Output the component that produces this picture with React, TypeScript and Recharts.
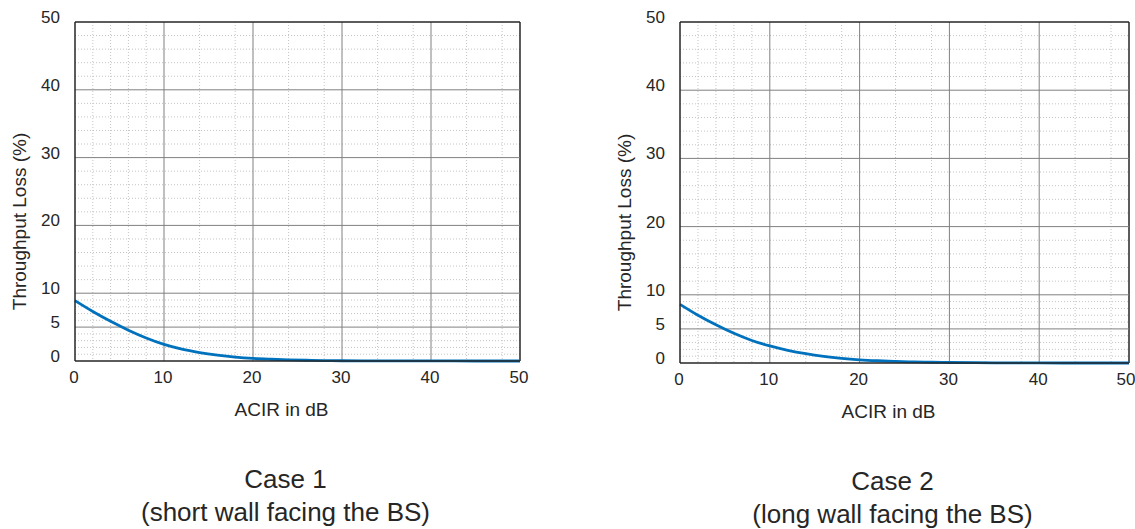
import React from 'react';
import { LineChart, Line, XAxis, YAxis, CartesianGrid, ReferenceLine } from 'recharts';

// ACIR sample points (dB)
const acir = [0, 2, 4, 6, 8, 10, 12, 14, 16, 18, 20, 22, 24, 26, 28, 30, 35, 40, 45, 50];
// throughput loss (%)
const lossCase1 = [8.9, 7.3, 5.85, 4.55, 3.4, 2.45, 1.75, 1.25, 0.87, 0.58, 0.38, 0.26, 0.17, 0.11, 0.07, 0.04, 0.02, 0.01, 0, 0];
const lossCase2 = [8.6, 7.0, 5.6, 4.35, 3.3, 2.5, 1.86, 1.36, 0.97, 0.68, 0.47, 0.33, 0.23, 0.16, 0.11, 0.07, 0.03, 0.01, 0, 0];

const xTicks = [0, 10, 20, 30, 40, 50];
const yTicks = [0, 5, 10, 20, 30, 40, 50];
const xMinor = [2, 4, 6, 8, 12, 14, 16, 18, 22, 24, 26, 28, 32, 34, 36, 38, 42, 44, 46, 48];
const yMinor = [1, 2, 3, 4, 6, 7, 8, 9, 12, 14, 16, 18, 22, 24, 26, 28, 32, 34, 36, 38, 42, 44, 46, 48];

const captions = [
  { title: 'Case 1', sub: '(short wall facing the BS)' },
  { title: 'Case 2', sub: '(long wall facing the BS)' },
];

const FONT = '"Liberation Sans", Arial, Helvetica, sans-serif';
const TEXT = '#262626';
const AXIS = '#262626';
const MAJOR = '#808080';
const MINOR = '#c4c4c4';
const LINE = '#0072BD';

const XTick = (props: any) => {
  const { x, y, payload } = props;
  return (
    <text x={x - 1} y={y + 16} textAnchor="middle" dominantBaseline="central" fontSize={17} fill={TEXT} fontFamily={FONT}>
      {payload.value}
    </text>
  );
};

const YTick = (props: any) => {
  const { x, y, payload } = props;
  return (
    <text x={x - 15} y={y - 4.5} textAnchor="end" dominantBaseline="central" fontSize={17} fill={TEXT} fontFamily={FONT}>
      {payload.value}
    </text>
  );
};

const YCaption = (props: any) => {
  const { viewBox } = props;
  const cx = viewBox.x + viewBox.width - 56;
  const cy = viewBox.y + viewBox.height / 2 + 30;
  return (
    <text x={cx} y={cy} transform={`rotate(-90, ${cx}, ${cy})`} textAnchor="middle" dominantBaseline="central"
      fontSize={19} fill={TEXT} fontFamily={FONT}>
      Throughput Loss (%)
    </text>
  );
};

const XCaption = (props: any) => {
  const { viewBox, title, sub } = props;
  const cx = viewBox.x + viewBox.width / 2;
  return (
    <g fontFamily={FONT} fill={TEXT}>
      <text x={cx - 16} y={viewBox.y + 55} textAnchor="middle" fontSize={19}>ACIR in dB</text>
      <text x={cx - 12} y={viewBox.y + 127} textAnchor="middle" fontSize={26}>{title}</text>
      <text x={cx - 12} y={viewBox.y + 160} textAnchor="middle" fontSize={26}>{sub}</text>
    </g>
  );
};

type PanelProps = {
  values: number[];
  caption: { title: string; sub: string };
  width: number;
  axisWidth: number;
  marginLeft: number;
  marginRight: number;
  xAxisHeight: number;
};

const Panel: React.FC<PanelProps> = ({ values, caption, width, axisWidth, marginLeft, marginRight, xAxisHeight }) => {
  const data = acir.map((a, i) => ({ acir: a, loss: values[i] }));
  return (
    <LineChart width={width} height={529} data={data}
      margin={{ top: 22, right: marginRight, bottom: 0, left: marginLeft }}>
      <CartesianGrid stroke={MINOR} strokeDasharray="1 2" horizontalValues={yMinor} verticalValues={xMinor} />
      {xTicks.slice(1).map(v => (
        <ReferenceLine key={`vx-${v}`} x={v} stroke={v === 50 ? AXIS : MAJOR} strokeWidth={v === 50 ? 1.5 : 1} />
      ))}
      {yTicks.slice(1).map(v => (
        <ReferenceLine key={`hy-${v}`} y={v} stroke={v === 50 ? AXIS : MAJOR} strokeWidth={v === 50 ? 1.5 : 1} />
      ))}
      <XAxis dataKey="acir" type="number" domain={[0, 50]} ticks={xTicks} height={xAxisHeight}
        tickSize={0} tickMargin={0} tickLine={false} axisLine={{ stroke: AXIS, strokeWidth: 1.5 }}
        tick={<XTick />} label={<XCaption title={caption.title} sub={caption.sub} />} />
      <YAxis type="number" domain={[0, 50]} ticks={yTicks} width={axisWidth} interval={0}
        tickSize={0} tickMargin={0} tickLine={false} axisLine={{ stroke: AXIS, strokeWidth: 1.5 }}
        tick={<YTick />} label={<YCaption />} />
      <Line type="monotone" dataKey="loss" stroke={LINE} strokeWidth={2.8} dot={false} isAnimationActive={false} />
    </LineChart>
  );
};

export default function App() {
  return (
    <div style={{ position: 'absolute', left: 0, top: 0, width: 1135, height: 529, background: '#fff' }}>
      <div style={{ position: 'absolute', left: 0, top: 0 }}>
        <Panel values={lossCase1} caption={captions[0]} width={560} axisWidth={75} marginLeft={0}
          marginRight={40} xAxisHeight={168} />
      </div>
      <div style={{ position: 'absolute', left: 560, top: 0 }}>
        <Panel values={lossCase2} caption={captions[1]} width={575} axisWidth={75} marginLeft={45}
          marginRight={6} xAxisHeight={166} />
      </div>
    </div>
  );
}
